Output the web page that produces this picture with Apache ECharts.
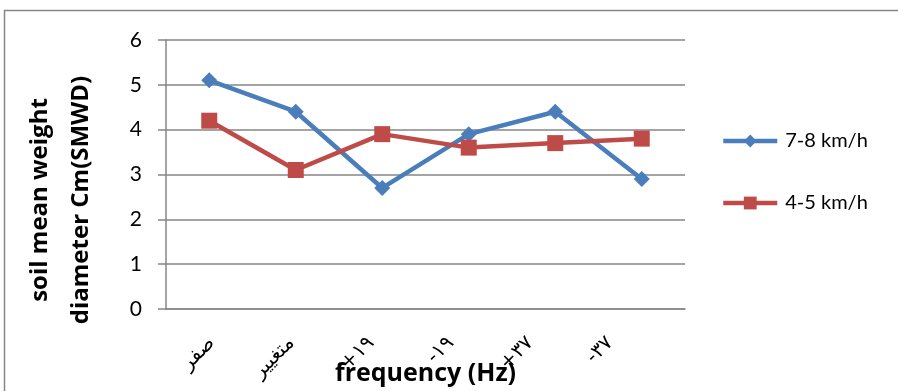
<!DOCTYPE html>
<html>
<head>
<meta charset="utf-8">
<script src="https://cdn.jsdelivr.net/npm/echarts@6/dist/echarts.min.js"></script>
<style>
  html, body { margin: 0; padding: 0; background: #fff; }
  #chart { width: 898px; height: 391px; }
</style>
</head>
<body>
<div id="chart"></div>
<script>
// Vibration frequency treatments on the x axis
const categories = ['صفر', 'متغییر', '+۱۹', '-۱۹', '+۳۷', '-۳۷'];
// Soil mean weight diameter (cm) per forward speed
const speedHigh = [5.1, 4.4, 2.7, 3.9, 4.4, 2.9];
const speedLow = [4.2, 3.1, 3.9, 3.6, 3.7, 3.8];
const seriesNames = ['7-8 km/h', '4-5 km/h'];
const yTicks = [0, 1, 2, 3, 4, 5, 6];

const FONT = 'Lato, "Open Sans", "DejaVu Sans", sans-serif';
const BOLD_FONT = '"Open Sans", "DejaVu Sans", sans-serif';
const GREY = '#868686';

const chart = echarts.init(document.getElementById('chart'), null, { renderer: 'canvas' });

chart.setOption({
  animation: false,
  backgroundColor: '#fff',
  grid: [
    { left: 166, top: 40, width: 519, height: 270, containLabel: false },
    // label strip for the rotated category names
    { left: 172, top: 40, width: 478, height: 270, containLabel: false }
  ],
  legend: {
    orient: 'vertical',
    left: 721,
    top: 131,
    padding: 0,
    itemWidth: 54,
    itemHeight: 16,
    itemGap: 42,
    lineStyle: { width: 4.5 },
    textStyle: { fontFamily: FONT, fontSize: 20, color: '#000', padding: [0, 0, 0, 3] },
    data: seriesNames
  },
  xAxis: [
    {
      gridIndex: 0,
      type: 'category',
      data: categories,
      boundaryGap: true,
      axisLine: { lineStyle: { color: GREY, width: 1.5 } },
      axisTick: { show: false },
      axisLabel: { show: false },
      name: 'frequency (Hz)',
      nameLocation: 'middle',
      nameGap: 52,
      nameTextStyle: { fontFamily: BOLD_FONT, fontWeight: 'bold', fontSize: 25, color: '#000' }
    },
    {
      gridIndex: 1,
      type: 'category',
      data: categories,
      boundaryGap: true,
      axisLine: { show: false },
      axisTick: { show: false },
      axisLabel: {
        rotate: 45,
        margin: 30,
        fontFamily: '"DejaVu Sans", sans-serif',
        fontSize: 20,
        color: '#000'
      }
    }
  ],
  yAxis: [
    {
      gridIndex: 0,
      type: 'value',
      min: yTicks[0],
      max: yTicks[yTicks.length - 1],
      interval: 1,
      axisLine: { show: true, lineStyle: { color: GREY, width: 1.5 } },
      axisTick: { show: true, length: 8, lineStyle: { color: GREY, width: 1.5 } },
      splitLine: { show: true, lineStyle: { color: GREY, width: 1.5 } },
      axisLabel: { margin: 24, fontFamily: FONT, fontSize: 21, color: '#000' }
    },
    {
      gridIndex: 1,
      type: 'value',
      min: 0,
      max: 6,
      show: false
    }
  ],
  graphic: [
    {
      type: 'rect',
      shape: { x: 4.5, y: 10.5, width: 900, height: 400 },
      style: { fill: 'none', stroke: GREY, lineWidth: 1.5 },
      silent: true
    },
    {
      type: 'text',
      x: 61,
      y: 200,
      rotation: Math.PI / 2,
      style: {
        text: 'soil mean weight\ndiameter Cm(SMWD)',
        fontFamily: BOLD_FONT,
        fontWeight: 'bold',
        fontSize: 24,
        lineHeight: 41,
        align: 'center',
        verticalAlign: 'middle',
        fill: '#000'
      }
    }
  ],
  series: [
    {
      name: seriesNames[0],
      type: 'line',
      xAxisIndex: 0,
      yAxisIndex: 0,
      data: speedHigh,
      symbol: 'diamond',
      symbolSize: 16,
      lineStyle: { color: '#4A7EBB', width: 4.5 },
      itemStyle: { color: '#4A7EBB' }
    },
    {
      name: seriesNames[1],
      type: 'line',
      xAxisIndex: 0,
      yAxisIndex: 0,
      data: speedLow,
      symbol: 'rect',
      symbolSize: 16,
      lineStyle: { color: '#BE4B48', width: 4.5 },
      itemStyle: { color: '#BE4B48' }
    }
  ]
});
</script>
</body>
</html>
